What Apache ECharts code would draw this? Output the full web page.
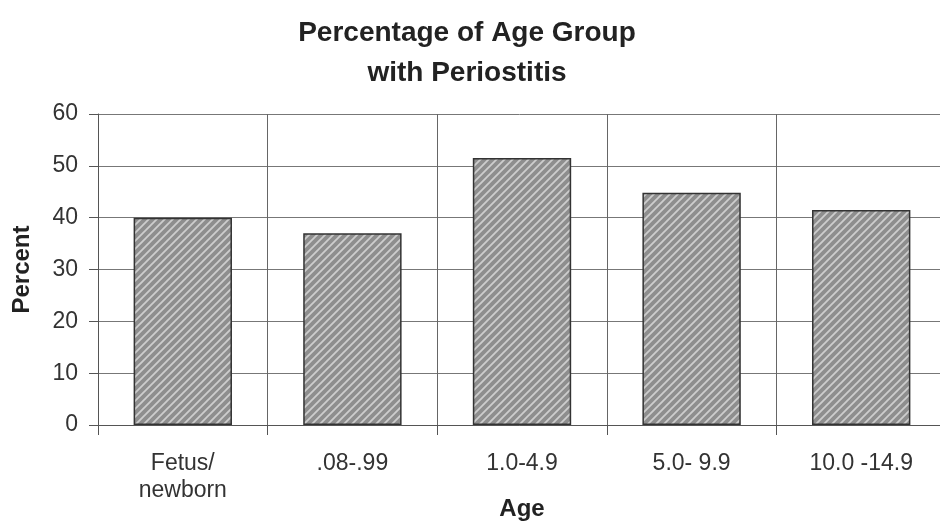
<!DOCTYPE html>
<html><head><meta charset="utf-8">
<script src="https://cdn.jsdelivr.net/npm/echarts@6/dist/echarts.min.js"></script>
<style>html,body{margin:0;padding:0;background:#fff}#c{width:940px;height:525px}</style>
</head><body><div id="c"></div>
<script>
const categories = ['Fetus/\nnewborn', '.08-.99', '1.0-4.9', '5.0- 9.9', '10.0 -14.9'];
const percentValues = [40, 37, 51.5, 44.8, 41.5];
const yTicks = { min: 0, max: 60, interval: 10 };

function hatch() {
  const c = document.createElement('canvas');
  c.width = 8; c.height = 8;
  const g = c.getContext('2d');
  g.fillStyle = '#8e8e8e';
  g.fillRect(0, 0, 8, 8);
  g.strokeStyle = '#cdcdcd';
  g.lineWidth = 1.8;
  g.beginPath();
  g.moveTo(-2, 10); g.lineTo(10, -2);
  g.moveTo(-2, 2); g.lineTo(2, -2);
  g.moveTo(6, 10); g.lineTo(10, 6);
  g.stroke();
  return c;
}

const FONT = 'Liberation Sans, Arial, sans-serif';
const chart = echarts.init(document.getElementById('c'));
chart.setOption({
  animation: false,
  backgroundColor: '#fff',
  title: {
    text: 'Percentage of Age Group\nwith Periostitis',
    left: 462, top: 8, textAlign: 'center',
    textStyle: { fontFamily: FONT, fontWeight: 'bold', fontSize: 28, lineHeight: 40, color: '#222' }
  },
  grid: { left: 98, top: 114, width: 848, height: 311, outerBoundsMode: 'none', containLabel: false },
  xAxis: {
    type: 'category', data: categories,
    name: 'Age', nameLocation: 'middle', nameGap: 72, nameMoveOverlap: false,
    nameTextStyle: { fontFamily: FONT, fontWeight: 'bold', fontSize: 24, color: '#222' },
    axisLine: { lineStyle: { color: '#555', width: 1 } },
    axisTick: { show: true, length: 10, lineStyle: { color: '#555' } },
    axisLabel: { margin: 25, fontFamily: FONT, fontSize: 23, color: '#333', lineHeight: 27 },
    splitLine: { show: true, lineStyle: { color: '#666', width: 1 } }
  },
  yAxis: {
    type: 'value', min: yTicks.min, max: yTicks.max, interval: yTicks.interval,
    name: 'Percent', nameLocation: 'middle', nameGap: 64, nameRotate: 90, nameMoveOverlap: false,
    nameTextStyle: { fontFamily: FONT, fontWeight: 'bold', fontSize: 24, color: '#222' },
    axisLine: { show: true, lineStyle: { color: '#555', width: 1 } },
    axisTick: { show: true, length: 9, lineStyle: { color: '#555' } },
    axisLabel: { margin: 20, fontFamily: FONT, fontSize: 23, color: '#333' },
    splitLine: { show: true, lineStyle: { color: '#777', width: 1 } }
  },
  series: [{
    type: 'bar', data: percentValues, barWidth: '58%',
    itemStyle: { color: { image: hatch(), repeat: 'repeat' }, borderColor: '#333', borderWidth: 1.5 }
  }]
});
</script></body></html>
